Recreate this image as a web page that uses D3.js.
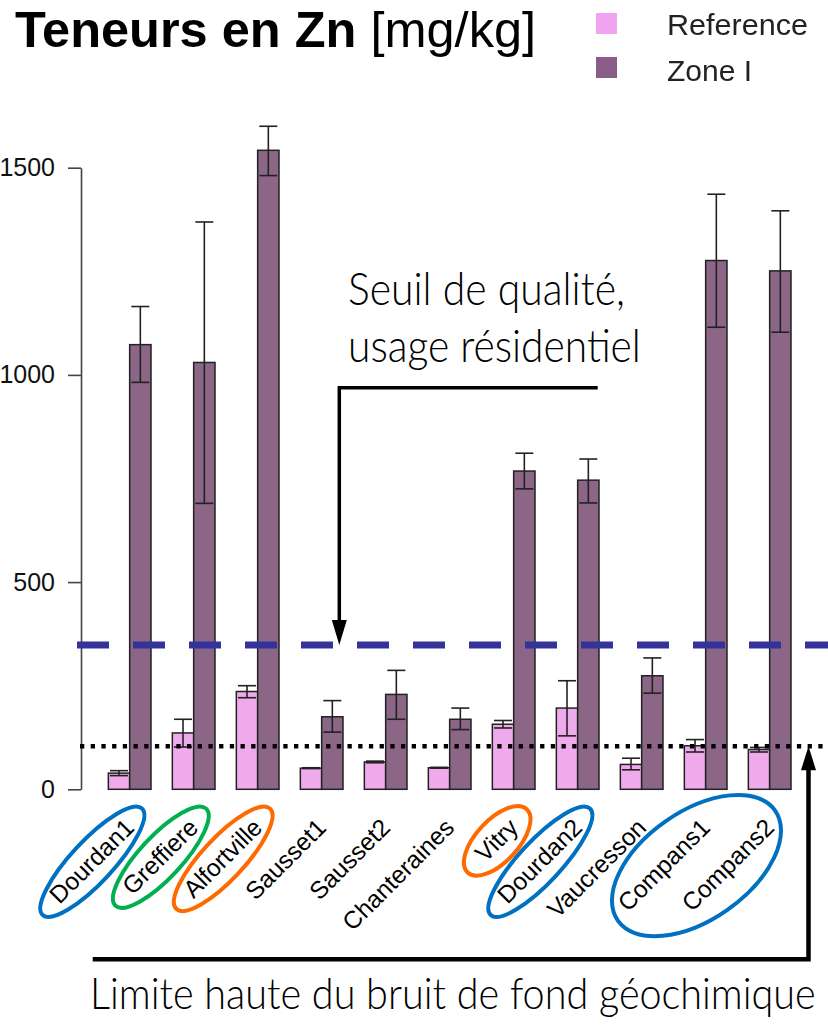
<!DOCTYPE html>
<html>
<head>
<meta charset="utf-8">
<script src="https://cdn.jsdelivr.net/npm/d3@7"></script>
<style>
  html, body { margin: 0; padding: 0; background: #fff; }
  svg { display: block; }
</style>
</head>
<body>
<svg id="chart" width="828" height="1026"></svg>
<script>
// Zn content per site (mg/kg): reference soils vs. zone I, with error bar bounds
const sites = ["Dourdan1", "Greffiere", "Alfortville", "Sausset1", "Sausset2", "Chanteraines",
               "Vitry", "Dourdan2", "Vaucresson", "Compans1", "Compans2"];
const series = ["Reference", "Zone I"];
const refMean = [39, 136, 236, 51, 66, 52, 157, 196, 60, 105, 96];
const refLow  = [33, 102, 221, 50, 64, 51, 148, 129, 47, 90, 90];
const refHigh = [45, 169, 250, 52, 68, 53, 166, 262, 75, 120, 101];
const zoneMean = [1073, 1030, 1542, 175, 229, 169, 768, 746, 274, 1276, 1251];
const zoneLow  = [982, 690, 1481, 138, 169, 144, 725, 691, 232, 1115, 1103];
const zoneHigh = [1165, 1369, 1600, 214, 287, 196, 811, 797, 317, 1436, 1396];
const yTicks = [0, 500, 1000, 1500];

// Reference thresholds
const seuilResidentiel = 348;   // quality threshold, residential use
const limiteFond = 104;         // upper limit of geochemical background

// Sites circled under the axis
const highlightGroups = [["Dourdan1"], ["Greffiere"], ["Alfortville"], ["Vitry"], ["Dourdan2"], ["Compans1", "Compans2"]];
const highlightColors = ["#0070c0", "#00b050", "#ff6a00", "#ff6a00", "#0070c0", "#0070c0"];

const colors = { "Reference": "#eeaaea", "Zone I": "#8b6687" };

const rows = sites.map((s, i) => ({
  site: s,
  values: [
    { key: "Reference", v: refMean[i], lo: refLow[i], hi: refHigh[i] },
    { key: "Zone I", v: zoneMean[i], lo: zoneLow[i], hi: zoneHigh[i] }
  ]
}));

const svg = d3.select("#chart");
svg.append("rect").attr("width", 828).attr("height", 1026).attr("fill", "#fff");

const y = d3.scaleLinear().domain([0, 1500]).range([789.3, 167.7]);
const x0 = d3.scaleBand().domain(sites).range([97.67, 801.67]).paddingInner(1 / 3).paddingOuter(1 / 6);
const x1 = d3.scaleBand().domain(series).range([0, x0.bandwidth()]);

// Title
const title = svg.append("text").attr("x", 15).attr("y", 46.5)
  .attr("font-family", "'Liberation Sans', Arial, sans-serif").attr("font-size", 50.5).attr("fill", "#000");
title.append("tspan").attr("font-weight", "bold").text("Teneurs en Zn");
title.append("tspan").attr("font-weight", "normal").text(" [mg/kg]");

// Legend
const defs = svg.append("defs");
defs.append("filter").attr("id", "soft").append("feGaussianBlur").attr("stdDeviation", 0.7);
const legend = svg.append("g").attr("filter", "url(#soft)");
series.forEach((s, i) => {
  legend.append("rect").attr("x", 596).attr("y", 13 + i * 44).attr("width", 21).attr("height", 21)
    .attr("fill", i === 0 ? "#f0a4f0" : "#8a5c88");
  legend.append("text").attr("x", 667).attr("y", 35 + i * 46)
    .attr("font-family", "'Liberation Sans', Arial, sans-serif").attr("font-size", 29.5)
    .attr("textLength", i === 0 ? 141 : 85).attr("lengthAdjust", "spacingAndGlyphs")
    .attr("fill", "#222").text(s);
});

// Y axis
const yAxis = d3.axisLeft(y).tickValues(yTicks).tickFormat(d3.format("d"))
  .tickSize(13).tickSizeOuter(0).tickPadding(13);
const gy = svg.append("g").attr("transform", "translate(81,0)").call(yAxis);
gy.select(".domain").attr("stroke", "#444").attr("stroke-width", 1.6);
gy.selectAll(".tick line").attr("stroke", "#444").attr("stroke-width", 1.6);
gy.selectAll(".tick text").attr("font-family", "'Liberation Sans', Arial, sans-serif")
  .attr("font-size", 25).attr("fill", "#111");

// Bars
const groups = svg.append("g").selectAll("g").data(rows).join("g")
  .attr("transform", d => `translate(${x0(d.site)},0)`);
groups.selectAll("rect").data(d => d.values).join("rect")
  .attr("x", d => x1(d.key)).attr("width", x1.bandwidth())
  .attr("y", d => y(d.v)).attr("height", d => y(0) - y(d.v))
  .attr("fill", d => colors[d.key]).attr("stroke", "#222").attr("stroke-width", 1.5);

// Error bars
const eb = groups.selectAll("g.err").data(d => d.values).join("g").attr("class", "err")
  .attr("stroke", "#222").attr("stroke-width", 1.6);
eb.append("line")
  .attr("x1", d => x1(d.key) + x1.bandwidth() / 2).attr("x2", d => x1(d.key) + x1.bandwidth() / 2)
  .attr("y1", d => y(d.lo)).attr("y2", d => y(d.hi));
["lo", "hi"].forEach(k => {
  eb.append("line")
    .attr("x1", d => x1(d.key) + x1.bandwidth() / 2 - 9).attr("x2", d => x1(d.key) + x1.bandwidth() / 2 + 9)
    .attr("y1", d => y(d[k])).attr("y2", d => y(d[k]));
});

// Threshold lines
svg.append("line").attr("x1", 77).attr("x2", 828)
  .attr("y1", y(seuilResidentiel)).attr("y2", y(seuilResidentiel))
  .attr("stroke", "#333399").attr("stroke-width", 7).attr("stroke-dasharray", "32,24");
svg.append("line").attr("x1", 80).attr("x2", 828)
  .attr("y1", y(limiteFond)).attr("y2", y(limiteFond))
  .attr("stroke", "#000").attr("stroke-width", 4.5).attr("stroke-dasharray", "4.3,6.4");

// Site labels, rotated 45°
const labelY = 829;
const c45 = Math.SQRT1_2;
const labelCenters = {};
const labelLengths = {};
const labels = svg.append("g");
sites.forEach(s => {
  const ax = x0(s) + x0.bandwidth() / 2 + 6;
  const t = labels.append("text")
    .attr("transform", `translate(${ax},${labelY}) rotate(-45)`)
    .attr("text-anchor", "end")
    .attr("font-family", "'Liberation Sans', Arial, sans-serif").attr("font-size", 24.5)
    .attr("fill", "#000").text(s);
  const L = t.node().getComputedTextLength();
  labelLengths[s] = L;
  // centre of the rotated label (half length back along the baseline, half x-height up)
  labelCenters[s] = [ax - (L / 2) * c45 - 7.5 * c45, labelY + (L / 2) * c45 - 7.5 * c45];
});

// Ellipses around highlighted sites
highlightGroups.forEach((grp, i) => {
  const cx = d3.mean(grp, s => labelCenters[s][0]);
  const cy = d3.mean(grp, s => labelCenters[s][1]);
  let rx, ry, ang;
  if (grp.length === 1) {
    rx = labelLengths[grp[0]] / 2 + 19; ry = 21; ang = -47;
  } else {
    rx = 96; ry = 54; ang = -35;
  }
  svg.append("ellipse").attr("cx", 0).attr("cy", 0).attr("rx", rx).attr("ry", ry)
    .attr("transform", `translate(${cx},${cy}) rotate(${ang})`)
    .attr("fill", "none").attr("stroke", highlightColors[i]).attr("stroke-width", 4);
});

// Condensed light annotation text: natural width is measured, then squeezed horizontally
const noteFont = "Lato, 'Open Sans', 'Liberation Sans', sans-serif";
function note(str, x, yb, size, width) {
  const t = svg.append("text")
    .attr("font-family", noteFont).attr("font-weight", 300).attr("font-size", size)
    .attr("fill", "#000").text(str);
  const natural = t.node().getComputedTextLength();
  t.attr("transform", `translate(${x},${yb}) scale(${width / natural},1)`);
  return t;
}

// Annotation: quality threshold arrow
const yS = y(seuilResidentiel);
svg.append("path").attr("d", `M597.7,387.7H339.3V${yS - 24}`)
  .attr("fill", "none").attr("stroke", "#000").attr("stroke-width", 3.5);
svg.append("path").attr("d", `M331.8,${yS - 25}L346.8,${yS - 25}L339.3,${yS}Z`).attr("fill", "#000");
note("Seuil de qualité,", 348, 305, 45, 277);
note("usage résidentiel", 348, 361.7, 45, 293);

// Annotation: geochemical background arrow
const yL = y(limiteFond);
svg.append("path").attr("d", `M92.7,959.3H808.5V${yL + 22}`)
  .attr("fill", "none").attr("stroke", "#000").attr("stroke-width", 4.5);
svg.append("path").attr("d", `M801,${yL + 24}L816,${yL + 24}L808.5,${yL}Z`).attr("fill", "#000");
note("Limite haute du bruit de fond géochimique", 90, 1009, 44, 726);
</script>
</body>
</html>
